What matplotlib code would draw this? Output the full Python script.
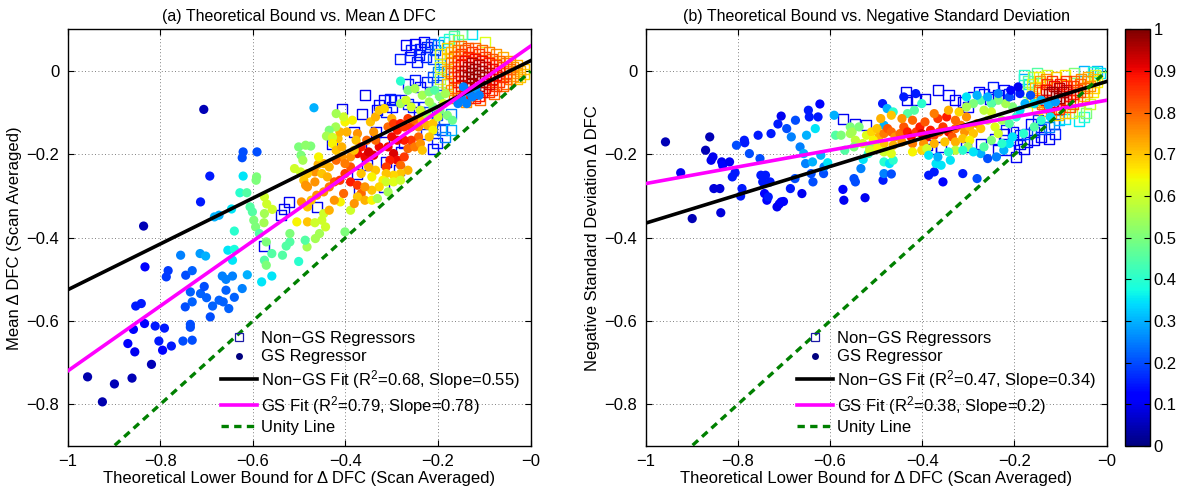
import numpy as np
import matplotlib
matplotlib.use("Agg")
import matplotlib.pyplot as plt
from matplotlib.lines import Line2D
from matplotlib.ticker import FuncFormatter

plt.rcParams["font.family"] = ["Liberation Sans", "DejaVu Sans"]
plt.rcParams["mathtext.fontset"] = "custom"
plt.rcParams["mathtext.rm"] = "Liberation Sans"
plt.rcParams["mathtext.it"] = "Liberation Sans:italic"

# ---- panel (a): mean delta DFC -----------------------------------------
# (bound, mean dDFC, colour value)
a_gs = [
    (-0.957, -0.734, 0.04), (-0.925, -0.794, 0.04), (-0.899, -0.751, 0.05), (-0.861, -0.737, 0.05),
    (-0.819, -0.704, 0.05), (-0.855, -0.674, 0.10), (-0.870, -0.654, 0.12), (-0.795, -0.670, 0.12),
    (-0.803, -0.648, 0.15), (-0.776, -0.660, 0.15), (-0.858, -0.620, 0.12), (-0.834, -0.606, 0.12),
    (-0.811, -0.612, 0.15), (-0.791, -0.617, 0.15), (-0.853, -0.564, 0.15), (-0.841, -0.558, 0.15),
    (-0.833, -0.470, 0.12), (-0.787, -0.494, 0.18), (-0.783, -0.479, 0.18), (-0.756, -0.442, 0.25),
    (-0.745, -0.490, 0.20), (-0.731, -0.479, 0.22), (-0.714, -0.438, 0.28), (-0.702, -0.444, 0.30),
    (-0.746, -0.566, 0.20), (-0.731, -0.554, 0.22), (-0.735, -0.530, 0.22), (-0.713, -0.534, 0.22),
    (-0.705, -0.517, 0.20), (-0.700, -0.544, 0.22), (-0.692, -0.590, 0.20), (-0.687, -0.564, 0.22),
    (-0.673, -0.550, 0.22), (-0.664, -0.554, 0.22), (-0.658, -0.526, 0.22), (-0.666, -0.492, 0.25),
    (-0.658, -0.500, 0.25), (-0.644, -0.492, 0.25), (-0.640, -0.543, 0.22), (-0.652, -0.570, 0.22),
    (-0.623, -0.522, 0.25), (-0.612, -0.489, 0.30), (-0.644, -0.454, 0.35), (-0.654, -0.430, 0.35),
    (-0.640, -0.428, 0.38), (-0.735, -0.615, 0.20), (-0.735, -0.608, 0.20), (-0.751, -0.648, 0.20),
    (-0.731, -0.646, 0.20), (-0.581, -0.506, 0.35), (-0.559, -0.492, 0.35), (-0.501, -0.457, 0.40),
    (-0.575, -0.454, 0.45), (-0.559, -0.438, 0.45), (-0.536, -0.442, 0.45), (-0.528, -0.420, 0.45),
    (-0.571, -0.466, 0.50), (-0.571, -0.410, 0.50), (-0.520, -0.410, 0.45), (-0.483, -0.422, 0.55),
    (-0.706, -0.092, 0.05), (-0.468, -0.088, 0.30), (-0.621, -0.194, 0.20), (-0.623, -0.208, 0.20),
    (-0.591, -0.194, 0.20), (-0.693, -0.252, 0.15), (-0.621, -0.252, 0.35), (-0.713, -0.314, 0.15),
    (-0.628, -0.292, 0.40), (-0.613, -0.292, 0.45), (-0.646, -0.331, 0.35), (-0.683, -0.350, 0.30),
    (-0.673, -0.346, 0.30), (-0.836, -0.372, 0.05), (-0.640, -0.384, 0.40), (-0.593, -0.262, 0.50),
    (-0.592, -0.254, 0.50), (-0.575, -0.302, 0.60), (-0.496, -0.202, 0.50), (-0.492, -0.214, 0.55),
    (-0.475, -0.180, 0.50), (-0.497, -0.242, 0.60),
    (-0.606, -0.326, 0.45), (-0.601, -0.338, 0.45), (-0.598, -0.358, 0.50), (-0.594, -0.374, 0.50),
    (-0.576, -0.364, 0.55), (-0.575, -0.342, 0.55), (-0.558, -0.332, 0.60), (-0.570, -0.319, 0.60),
    (-0.586, -0.390, 0.45), (-0.520, -0.390, 0.50), (-0.505, -0.362, 0.65), (-0.482, -0.362, 0.70),
    (-0.466, -0.364, 0.60), (-0.451, -0.358, 0.60), (-0.447, -0.342, 0.60), (-0.443, -0.374, 0.60),
    (-0.456, -0.390, 0.55), (-0.487, -0.406, 0.45), (-0.465, -0.402, 0.55), (-0.401, -0.386, 0.50),
    (-0.389, -0.334, 0.60), (-0.411, -0.314, 0.65),
    (-0.459, -0.224, 0.72), (-0.466, -0.242, 0.75), (-0.451, -0.246, 0.70), (-0.439, -0.254, 0.72),
    (-0.482, -0.278, 0.75), (-0.466, -0.266, 0.75), (-0.490, -0.262, 0.70), (-0.495, -0.314, 0.75),
    (-0.482, -0.326, 0.70), (-0.474, -0.310, 0.70), (-0.462, -0.298, 0.75), (-0.447, -0.290, 0.75),
    (-0.435, -0.278, 0.78), (-0.424, -0.266, 0.82), (-0.412, -0.262, 0.85), (-0.401, -0.246, 0.85),
    (-0.389, -0.266, 0.88), (-0.374, -0.274, 0.85), (-0.366, -0.294, 0.80), (-0.404, -0.294, 0.80),
    (-0.424, -0.310, 0.75), (-0.435, -0.334, 0.72), (-0.389, -0.230, 0.82), (-0.408, -0.206, 0.75),
    (-0.416, -0.162, 0.70), (-0.412, -0.146, 0.72), (-0.397, -0.146, 0.72), (-0.401, -0.122, 0.65),
    (-0.421, -0.134, 0.55), (-0.435, -0.142, 0.50), (-0.441, -0.156, 0.55), (-0.428, -0.159, 0.60),
    (-0.404, -0.110, 0.60), (-0.385, -0.118, 0.65), (-0.374, -0.150, 0.75), (-0.377, -0.166, 0.70),
    (-0.366, -0.182, 0.88), (-0.374, -0.198, 0.90), (-0.358, -0.206, 0.90), (-0.350, -0.194, 0.92),
    (-0.339, -0.202, 0.92), (-0.327, -0.182, 0.90), (-0.335, -0.166, 0.80), (-0.354, -0.166, 0.80),
    (-0.339, -0.146, 0.75), (-0.346, -0.122, 0.70), (-0.335, -0.110, 0.72), (-0.327, -0.094, 0.70),
    (-0.316, -0.090, 0.68), (-0.300, -0.114, 0.72), (-0.308, -0.134, 0.80), (-0.296, -0.126, 0.85),
    (-0.288, -0.142, 0.88), (-0.281, -0.126, 0.88), (-0.273, -0.134, 0.85), (-0.265, -0.114, 0.85),
    (-0.258, -0.134, 0.85), (-0.250, -0.118, 0.80), (-0.242, -0.134, 0.75), (-0.234, -0.118, 0.70),
    (-0.223, -0.130, 0.72), (-0.211, -0.126, 0.70), (-0.211, -0.142, 0.65), (-0.219, -0.158, 0.70),
    (-0.242, -0.158, 0.80), (-0.258, -0.166, 0.85), (-0.273, -0.166, 0.88), (-0.288, -0.166, 0.90),
    (-0.300, -0.158, 0.90), (-0.308, -0.182, 0.90), (-0.296, -0.198, 0.92), (-0.288, -0.214, 0.90),
    (-0.304, -0.214, 0.88), (-0.312, -0.230, 0.85), (-0.281, -0.226, 0.80), (-0.273, -0.206, 0.85),
    (-0.265, -0.186, 0.80), (-0.250, -0.182, 0.78), (-0.238, -0.174, 0.75), (-0.234, -0.190, 0.70),
    (-0.265, -0.238, 0.72), (-0.281, -0.246, 0.70), (-0.296, -0.250, 0.68), (-0.312, -0.246, 0.70),
    (-0.319, -0.262, 0.65), (-0.312, -0.266, 0.60), (-0.296, -0.266, 0.62), (-0.281, -0.262, 0.60),
    (-0.335, -0.238, 0.70), (-0.350, -0.230, 0.72), (-0.366, -0.246, 0.70), (-0.343, -0.254, 0.65),
    (-0.327, -0.278, 0.68), (-0.343, -0.286, 0.70), (-0.358, -0.278, 0.75), (-0.374, -0.302, 0.70),
    (-0.381, -0.318, 0.75), (-0.358, -0.310, 0.72), (-0.343, -0.310, 0.65), (-0.331, -0.306, 0.55),
    (-0.308, -0.290, 0.55),
    (-0.420, -0.102, 0.55), (-0.428, -0.174, 0.65), (-0.420, -0.190, 0.70), (-0.408, -0.182, 0.72),
    (-0.389, -0.206, 0.75), (-0.381, -0.190, 0.70), (-0.401, -0.222, 0.78), (-0.420, -0.214, 0.80),
    (-0.435, -0.230, 0.72), (-0.447, -0.222, 0.72), (-0.458, -0.206, 0.65), (-0.501, -0.182, 0.50),
    (-0.486, -0.178, 0.52), (-0.510, -0.234, 0.60), (-0.482, -0.246, 0.70), (-0.486, -0.274, 0.75),
    (-0.281, -0.024, 0.40), (-0.265, -0.046, 0.50), (-0.250, -0.042, 0.55), (-0.234, -0.058, 0.55),
    (-0.219, -0.050, 0.50), (-0.207, -0.046, 0.45), (-0.196, -0.062, 0.50), (-0.184, -0.054, 0.55),
    (-0.281, -0.078, 0.55), (-0.269, -0.070, 0.60), (-0.258, -0.086, 0.60), (-0.238, -0.094, 0.60),
    (-0.223, -0.106, 0.55), (-0.211, -0.086, 0.50), (-0.196, -0.094, 0.50), (-0.180, -0.106, 0.50),
    (-0.169, -0.118, 0.48), (-0.188, -0.078, 0.60), (-0.200, -0.110, 0.60), (-0.219, -0.074, 0.55),
    (-0.145, -0.038, 0.25), (-0.134, -0.050, 0.25), (-0.126, -0.062, 0.25), (-0.149, -0.066, 0.25),
    (-0.138, -0.078, 0.25), (-0.118, -0.042, 0.28), (-0.157, -0.078, 0.25), (-0.111, -0.058, 0.25),
]

a_nongs = [
    (-0.282, 0.028, 0.15), (-0.269, 0.062, 0.12), (-0.258, 0.050, 0.15), (-0.250, 0.066, 0.12),
    (-0.238, 0.054, 0.15), (-0.230, 0.070, 0.12), (-0.223, 0.058, 0.15), (-0.215, 0.066, 0.18),
    (-0.207, 0.050, 0.20), (-0.200, 0.062, 0.25), (-0.242, 0.038, 0.15), (-0.227, 0.034, 0.15),
    (-0.211, 0.030, 0.20), (-0.196, 0.042, 0.25), (-0.261, 0.034, 0.12), (-0.246, 0.022, 0.15),
    (-0.188, 0.070, 0.35), (-0.176, 0.076, 0.40), (-0.165, 0.084, 0.45), (-0.149, 0.090, 0.45),
    (-0.126, 0.090, 0.35), (-0.196, 0.018, 0.30), (-0.188, 0.006, 0.30), (-0.200, -0.002, 0.25),
    (-0.099, 0.070, 0.62), (-0.157, 0.074, 0.55),
    (-0.357, -0.058, 0.10), (-0.408, -0.090, 0.10), (-0.364, -0.102, 0.10), (-0.327, -0.082, 0.12),
    (-0.316, -0.070, 0.12), (-0.304, -0.066, 0.15), (-0.292, -0.070, 0.15), (-0.281, -0.070, 0.12),
    (-0.331, -0.094, 0.12), (-0.312, -0.098, 0.15), (-0.300, -0.086, 0.12), (-0.265, -0.078, 0.15),
    (-0.254, -0.086, 0.15), (-0.242, -0.098, 0.12), (-0.230, -0.086, 0.15), (-0.219, -0.098, 0.20),
    (-0.203, -0.106, 0.20), (-0.188, -0.114, 0.20), (-0.172, -0.102, 0.25), (-0.265, -0.030, 0.15),
    (-0.250, -0.022, 0.15), (-0.238, -0.038, 0.12), (-0.223, -0.026, 0.15), (-0.211, -0.014, 0.20),
    (-0.203, -0.034, 0.20), (-0.180, -0.030, 0.30), (-0.219, -0.122, 0.15), (-0.207, -0.138, 0.20),
    (-0.192, -0.142, 0.20), (-0.227, -0.150, 0.15), (-0.203, -0.172, 0.15), (-0.211, -0.186, 0.12),
    (-0.184, -0.158, 0.25), (-0.172, -0.142, 0.30),
    (-0.428, -0.175, 0.10), (-0.366, -0.186, 0.10), (-0.317, -0.170, 0.10), (-0.273, -0.172, 0.12),
    (-0.540, -0.346, 0.10), (-0.532, -0.332, 0.10), (-0.521, -0.314, 0.10), (-0.461, -0.326, 0.10),
    (-0.370, -0.286, 0.10), (-0.374, -0.246, 0.10), (-0.354, -0.226, 0.10), (-0.312, -0.218, 0.12),
    (-0.285, -0.238, 0.10), (-0.316, -0.278, 0.10), (-0.281, -0.194, 0.10), (-0.575, -0.420, 0.10),
    (-0.381, -0.146, 0.10), (-0.335, -0.146, 0.12),
    # dense block near the origin
    (-0.195, 0.040, 0.62), (-0.195, 0.010, 0.60), (-0.195, -0.020, 0.58), (-0.195, -0.050, 0.55),
    (-0.180, 0.055, 0.68), (-0.180, 0.030, 0.70), (-0.180, 0.000, 0.72), (-0.180, -0.030, 0.70),
    (-0.180, -0.060, 0.68), (-0.165, 0.060, 0.75), (-0.165, 0.035, 0.80), (-0.165, 0.010, 0.82),
    (-0.165, -0.015, 0.85), (-0.165, -0.040, 0.80), (-0.165, -0.065, 0.78), (-0.150, 0.060, 0.80),
    (-0.150, 0.040, 0.85), (-0.150, 0.015, 0.90), (-0.150, -0.010, 0.92), (-0.150, -0.035, 0.90),
    (-0.150, -0.060, 0.82), (-0.135, 0.055, 0.82), (-0.135, 0.035, 0.88), (-0.135, 0.010, 0.95),
    (-0.135, -0.015, 0.97), (-0.135, -0.040, 0.92), (-0.135, -0.065, 0.85), (-0.120, 0.055, 0.80),
    (-0.120, 0.030, 0.90), (-0.120, 0.005, 0.97), (-0.120, -0.020, 0.98), (-0.120, -0.045, 0.93),
    (-0.120, -0.065, 0.88), (-0.105, 0.050, 0.80), (-0.105, 0.025, 0.90), (-0.105, 0.000, 0.96),
    (-0.105, -0.025, 0.95), (-0.105, -0.050, 0.90), (-0.090, 0.045, 0.78), (-0.090, 0.020, 0.88),
    (-0.090, -0.005, 0.93), (-0.090, -0.030, 0.92), (-0.090, -0.050, 0.85), (-0.075, 0.040, 0.75),
    (-0.075, 0.015, 0.85), (-0.075, -0.010, 0.90), (-0.075, -0.035, 0.85), (-0.060, 0.035, 0.72),
    (-0.060, 0.010, 0.82), (-0.060, -0.015, 0.86), (-0.060, -0.035, 0.80), (-0.045, 0.025, 0.75),
    (-0.045, 0.005, 0.80), (-0.045, -0.020, 0.78), (-0.030, 0.015, 0.72), (-0.030, -0.005, 0.75),
    (-0.030, -0.020, 0.70), (-0.015, 0.005, 0.70), (-0.015, -0.008, 0.68), (-0.140, -0.075, 0.75),
    (-0.110, -0.070, 0.80), (-0.080, -0.055, 0.80),
    (-0.1725, 0.045, 0.72), (-0.1725, 0.020, 0.78), (-0.1725, -0.005, 0.80), (-0.1725, -0.045, 0.75),
    (-0.1575, 0.050, 0.78), (-0.1575, 0.025, 0.85), (-0.1575, 0.000, 0.88), (-0.1575, -0.025, 0.88),
    (-0.1575, -0.050, 0.82), (-0.1425, 0.050, 0.82), (-0.1425, 0.025, 0.90), (-0.1425, 0.000, 0.95),
    (-0.1425, -0.025, 0.95), (-0.1425, -0.050, 0.88), (-0.1425, -0.070, 0.80), (-0.1275, 0.045, 0.85),
    (-0.1275, 0.020, 0.95), (-0.1275, -0.005, 0.98), (-0.1275, -0.030, 0.96), (-0.1275, -0.055, 0.90),
    (-0.1125, 0.040, 0.85), (-0.1125, 0.015, 0.95), (-0.1125, -0.010, 0.98), (-0.1125, -0.035, 0.95),
    (-0.1125, -0.060, 0.88), (-0.0975, 0.035, 0.85), (-0.0975, 0.010, 0.93), (-0.0975, -0.015, 0.95),
    (-0.0975, -0.040, 0.90), (-0.0825, 0.030, 0.82), (-0.0825, 0.005, 0.90), (-0.0825, -0.020, 0.90),
    (-0.0825, -0.045, 0.85), (-0.0675, 0.025, 0.80), (-0.0675, 0.000, 0.88), (-0.0675, -0.025, 0.85),
    (-0.0525, 0.020, 0.78), (-0.0525, -0.005, 0.82), (-0.0525, -0.030, 0.80), (-0.0375, 0.010, 0.75),
    (-0.0375, -0.012, 0.75), (-0.0225, 0.000, 0.72), (-0.0225, -0.015, 0.70),
]

# ---- panel (b): negative standard deviation ------------------------------
b_gs = [
    (-0.957, -0.170, 0.05), (-0.924, -0.244, 0.10), (-0.899, -0.354, 0.05), (-0.870, -0.190, 0.05),
    (-0.861, -0.158, 0.05), (-0.858, -0.214, 0.10), (-0.854, -0.206, 0.10), (-0.852, -0.282, 0.08),
    (-0.839, -0.282, 0.08), (-0.837, -0.340, 0.08), (-0.835, -0.218, 0.10), (-0.833, -0.226, 0.12),
    (-0.818, -0.218, 0.10), (-0.812, -0.254, 0.15), (-0.803, -0.178, 0.20), (-0.806, -0.244, 0.15),
    (-0.794, -0.300, 0.15), (-0.791, -0.282, 0.15), (-0.786, -0.166, 0.15), (-0.785, -0.172, 0.15),
    (-0.775, -0.198, 0.20), (-0.756, -0.154, 0.15), (-0.750, -0.250, 0.15), (-0.752, -0.210, 0.20),
    (-0.746, -0.266, 0.15), (-0.742, -0.294, 0.12), (-0.740, -0.250, 0.15), (-0.737, -0.310, 0.12),
    (-0.730, -0.266, 0.15), (-0.734, -0.302, 0.15), (-0.728, -0.150, 0.15), (-0.715, -0.326, 0.10),
    (-0.710, -0.319, 0.10), (-0.706, -0.314, 0.12), (-0.701, -0.313, 0.12), (-0.706, -0.108, 0.10),
    (-0.713, -0.127, 0.15), (-0.694, -0.138, 0.20), (-0.686, -0.282, 0.15), (-0.684, -0.158, 0.25),
    (-0.676, -0.258, 0.20), (-0.675, -0.118, 0.20), (-0.665, -0.182, 0.25), (-0.661, -0.294, 0.10),
    (-0.657, -0.198, 0.30), (-0.653, -0.222, 0.25), (-0.651, -0.154, 0.30), (-0.647, -0.094, 0.15),
    (-0.645, -0.110, 0.15), (-0.641, -0.246, 0.20), (-0.638, -0.218, 0.30), (-0.637, -0.266, 0.20),
    (-0.632, -0.138, 0.35), (-0.626, -0.110, 0.15), (-0.622, -0.079, 0.12), (-0.620, -0.202, 0.30),
    (-0.614, -0.246, 0.20), (-0.613, -0.230, 0.25), (-0.605, -0.220, 0.35), (-0.591, -0.106, 0.30),
    (-0.588, -0.154, 0.45), (-0.576, -0.154, 0.50), (-0.572, -0.284, 0.12), (-0.570, -0.310, 0.10),
    (-0.556, -0.134, 0.50), (-0.552, -0.146, 0.55), (-0.548, -0.258, 0.20), (-0.545, -0.266, 0.20),
    (-0.537, -0.134, 0.50), (-0.533, -0.234, 0.25), (-0.524, -0.304, 0.10), (-0.528, -0.212, 0.35),
    (-0.517, -0.198, 0.40), (-0.514, -0.182, 0.45), (-0.502, -0.178, 0.50), (-0.486, -0.078, 0.15),
    (-0.485, -0.262, 0.15), (-0.483, -0.246, 0.25), (-0.483, -0.218, 0.40), (-0.483, -0.130, 0.30),
    (-0.476, -0.090, 0.30), (-0.463, -0.098, 0.40), (-0.471, -0.222, 0.35), (-0.463, -0.214, 0.40),
    (-0.467, -0.247, 0.20), (-0.440, -0.062, 0.15), (-0.436, -0.142, 0.60), (-0.432, -0.102, 0.45),
    (-0.414, -0.054, 0.15), (-0.417, -0.094, 0.45), (-0.401, -0.078, 0.40), (-0.386, -0.250, 0.15),
    (-0.374, -0.242, 0.15), (-0.370, -0.222, 0.35), (-0.359, -0.226, 0.35), (-0.355, -0.266, 0.12),
    (-0.339, -0.214, 0.35), (-0.312, -0.246, 0.15), (-0.281, -0.258, 0.20), (-0.273, -0.198, 0.30),
    (-0.258, -0.210, 0.20), (-0.239, -0.206, 0.25), (-0.223, -0.190, 0.30), (-0.211, -0.174, 0.35),
    (-0.521, -0.154, 0.62), (-0.510, -0.146, 0.68), (-0.498, -0.138, 0.70), (-0.494, -0.158, 0.72),
    (-0.483, -0.150, 0.78), (-0.475, -0.138, 0.82), (-0.467, -0.146, 0.80), (-0.459, -0.158, 0.75),
    (-0.448, -0.150, 0.80), (-0.440, -0.134, 0.82), (-0.432, -0.146, 0.88), (-0.424, -0.158, 0.90),
    (-0.413, -0.146, 0.85), (-0.405, -0.134, 0.88), (-0.401, -0.150, 0.92), (-0.390, -0.158, 0.90),
    (-0.382, -0.142, 0.88), (-0.374, -0.154, 0.85), (-0.363, -0.146, 0.82), (-0.355, -0.134, 0.85),
    (-0.343, -0.146, 0.90), (-0.335, -0.158, 0.82), (-0.328, -0.138, 0.80), (-0.316, -0.130, 0.78),
    (-0.308, -0.146, 0.75), (-0.297, -0.134, 0.72), (-0.289, -0.150, 0.70), (-0.281, -0.126, 0.75),
    (-0.273, -0.138, 0.70),
    (-0.490, -0.114, 0.72), (-0.467, -0.106, 0.70), (-0.444, -0.114, 0.75), (-0.421, -0.118, 0.80),
    (-0.394, -0.122, 0.82), (-0.366, -0.114, 0.85), (-0.347, -0.110, 0.88), (-0.328, -0.118, 0.80),
    (-0.304, -0.110, 0.75), (-0.320, -0.098, 0.68), (-0.343, -0.094, 0.72), (-0.374, -0.102, 0.78),
    (-0.483, -0.174, 0.70), (-0.463, -0.178, 0.72), (-0.444, -0.170, 0.75), (-0.421, -0.174, 0.78),
    (-0.397, -0.174, 0.75), (-0.374, -0.174, 0.72), (-0.351, -0.170, 0.70), (-0.328, -0.170, 0.72),
    (-0.312, -0.162, 0.70), (-0.297, -0.166, 0.65), (-0.401, -0.190, 0.68), (-0.421, -0.194, 0.65),
    (-0.390, -0.186, 0.60), (-0.498, -0.186, 0.65), (-0.483, -0.194, 0.60), (-0.467, -0.198, 0.62),
    (-0.301, -0.182, 0.55), (-0.328, -0.190, 0.58),
    (-0.556, -0.150, 0.55), (-0.545, -0.166, 0.58), (-0.529, -0.174, 0.60), (-0.548, -0.182, 0.50),
    (-0.568, -0.190, 0.45), (-0.514, -0.190, 0.60), (-0.506, -0.166, 0.65),
    (-0.258, -0.118, 0.60), (-0.242, -0.134, 0.62), (-0.235, -0.150, 0.60), (-0.227, -0.118, 0.55),
    (-0.211, -0.126, 0.45), (-0.196, -0.110, 0.40), (-0.188, -0.094, 0.35), (-0.204, -0.086, 0.50),
    (-0.219, -0.078, 0.55), (-0.235, -0.070, 0.50), (-0.250, -0.078, 0.45), (-0.273, -0.070, 0.45),
    (-0.289, -0.078, 0.50), (-0.304, -0.086, 0.55), (-0.250, -0.098, 0.60), (-0.266, -0.094, 0.58),
    (-0.304, -0.062, 0.35), (-0.281, -0.058, 0.30), (-0.258, -0.062, 0.30), (-0.235, -0.054, 0.25),
    (-0.211, -0.062, 0.20), (-0.188, -0.054, 0.15), (-0.165, -0.058, 0.20), (-0.192, -0.038, 0.10),
    (-0.208, -0.046, 0.12), (-0.177, -0.078, 0.30), (-0.157, -0.078, 0.35), (-0.142, -0.070, 0.30),
    (-0.126, -0.082, 0.30), (-0.111, -0.074, 0.28),
    (-0.386, -0.202, 0.35), (-0.366, -0.206, 0.30), (-0.343, -0.194, 0.40), (-0.312, -0.190, 0.40),
    (-0.289, -0.194, 0.35), (-0.266, -0.182, 0.45), (-0.250, -0.166, 0.50), (-0.227, -0.174, 0.40),
    (-0.204, -0.158, 0.35), (-0.180, -0.150, 0.40), (-0.157, -0.134, 0.45), (-0.142, -0.118, 0.40),
    (-0.122, -0.110, 0.35),
]

b_nongs = [
    (-0.436, -0.050, 0.10), (-0.432, -0.070, 0.10), (-0.413, -0.070, 0.10), (-0.394, -0.066, 0.10),
    (-0.366, -0.046, 0.10), (-0.343, -0.058, 0.12), (-0.328, -0.070, 0.12), (-0.312, -0.074, 0.10),
    (-0.301, -0.086, 0.12), (-0.289, -0.062, 0.10), (-0.277, -0.050, 0.12), (-0.266, -0.054, 0.12),
    (-0.254, -0.066, 0.10), (-0.246, -0.038, 0.15), (-0.235, -0.058, 0.10), (-0.223, -0.046, 0.12),
    (-0.211, -0.054, 0.15), (-0.180, -0.018, 0.30), (-0.169, -0.030, 0.35),
    (-0.572, -0.114, 0.10), (-0.545, -0.126, 0.10), (-0.521, -0.130, 0.10), (-0.390, -0.178, 0.10),
    (-0.382, -0.186, 0.10), (-0.359, -0.182, 0.10), (-0.304, -0.182, 0.10), (-0.273, -0.174, 0.10),
    (-0.242, -0.162, 0.12), (-0.223, -0.150, 0.10), (-0.204, -0.166, 0.12), (-0.188, -0.174, 0.10),
    (-0.173, -0.170, 0.12), (-0.157, -0.166, 0.10), (-0.142, -0.158, 0.12), (-0.126, -0.162, 0.10),
    (-0.111, -0.150, 0.15), (-0.196, -0.206, 0.10), (-0.211, -0.190, 0.12), (-0.235, -0.190, 0.10),
    (-0.180, -0.186, 0.10),
    (-0.219, -0.142, 0.15), (-0.204, -0.146, 0.12), (-0.188, -0.154, 0.15), (-0.173, -0.150, 0.20),
    (-0.157, -0.146, 0.15), (-0.142, -0.138, 0.20), (-0.126, -0.134, 0.25), (-0.115, -0.126, 0.20),
    (-0.103, -0.118, 0.30), (-0.091, -0.114, 0.35), (-0.165, -0.126, 0.12), (-0.149, -0.118, 0.15),
    (-0.134, -0.110, 0.18),
    # dense block near the origin
    (-0.170, -0.025, 0.45), (-0.170, -0.050, 0.50), (-0.160, -0.015, 0.55), (-0.155, -0.040, 0.70),
    (-0.155, -0.070, 0.72), (-0.145, -0.025, 0.75), (-0.140, -0.050, 0.85), (-0.140, -0.080, 0.80),
    (-0.130, -0.030, 0.85), (-0.125, -0.055, 0.95), (-0.125, -0.085, 0.85), (-0.115, -0.035, 0.90),
    (-0.110, -0.060, 0.97), (-0.110, -0.090, 0.88), (-0.100, -0.030, 0.88), (-0.095, -0.050, 0.95),
    (-0.095, -0.075, 0.92), (-0.085, -0.035, 0.85), (-0.080, -0.060, 0.90), (-0.080, -0.085, 0.82),
    (-0.070, -0.025, 0.80), (-0.065, -0.045, 0.85), (-0.065, -0.070, 0.80), (-0.055, -0.020, 0.75),
    (-0.050, -0.040, 0.80), (-0.050, -0.060, 0.72), (-0.040, -0.015, 0.72), (-0.035, -0.035, 0.75),
    (-0.030, -0.050, 0.65), (-0.025, -0.010, 0.60), (-0.020, -0.025, 0.65), (-0.015, -0.005, 0.35),
    (-0.010, -0.015, 0.55), (-0.020, 0.000, 0.30), (-0.030, -0.003, 0.40), (-0.060, -0.095, 0.55),
    (-0.045, -0.100, 0.50), (-0.035, -0.080, 0.60), (-0.050, -0.110, 0.40), (-0.060, -0.120, 0.35),
    (-0.075, -0.100, 0.60), (-0.090, -0.100, 0.70), (-0.105, -0.105, 0.70), (-0.120, -0.100, 0.75),
    (-0.135, -0.095, 0.70), (-0.150, -0.090, 0.65), (-0.165, -0.075, 0.55), (-0.050, 0.000, 0.30),
    (-0.070, -0.005, 0.50), (-0.090, -0.010, 0.65), (-0.110, -0.015, 0.70), (-0.130, -0.010, 0.60),
    (-0.150, -0.005, 0.45), (-0.180, -0.010, 0.40),
    (-0.1625, -0.030, 0.60), (-0.1625, -0.060, 0.65), (-0.1475, -0.015, 0.65), (-0.1475, -0.045, 0.80),
    (-0.1475, -0.075, 0.75), (-0.1325, -0.020, 0.75), (-0.1325, -0.045, 0.90), (-0.1325, -0.070, 0.90),
    (-0.1175, -0.025, 0.85), (-0.1175, -0.050, 0.97), (-0.1175, -0.075, 0.92), (-0.1025, -0.040, 0.95),
    (-0.1025, -0.065, 0.97), (-0.1025, -0.090, 0.85), (-0.0875, -0.025, 0.85), (-0.0875, -0.045, 0.92),
    (-0.0875, -0.070, 0.90), (-0.0725, -0.035, 0.85), (-0.0725, -0.055, 0.88), (-0.0725, -0.080, 0.80),
    (-0.0575, -0.030, 0.80), (-0.0575, -0.050, 0.82), (-0.0425, -0.025, 0.75), (-0.0425, -0.050, 0.72),
    (-0.0275, -0.020, 0.70), (-0.0275, -0.040, 0.68),
]

# linear fits: (intercept, slope)
a_fit_nongs = (0.025, 0.55)
a_fit_gs = (0.06, 0.78)
b_fit_nongs = (-0.025, 0.34)
b_fit_gs = (-0.07, 0.20)

a_labels = ["Non\u2212GS Regressors", "GS Regressor",
            "Non\u2212GS Fit (R$^2$=0.68, Slope=0.55)",
            "GS Fit (R$^2$=0.79, Slope=0.78)", "Unity Line"]
b_labels = ["Non\u2212GS Regressors", "GS Regressor",
            "Non\u2212GS Fit (R$^2$=0.47, Slope=0.34)",
            "GS Fit (R$^2$=0.38, Slope=0.2)", "Unity Line"]

cmap = plt.get_cmap("jet")
FS = 12


def fmt(v, pos):
    return ("%g" % round(v, 2)).replace("-", "\u2212")


def draw_panel(ax, gs, nongs, fit_nongs, fit_gs, labels, title, ylabel):
    sq = np.array(sorted(nongs, key=lambda p: p[2]))
    ci = np.array(gs)
    ax.scatter(sq[:, 0], sq[:, 1], s=52, marker="s", facecolors="none",
               edgecolors=cmap(sq[:, 2]), linewidths=1.0, zorder=2)
    ax.scatter(ci[:, 0], ci[:, 1], s=44, marker="o", c=ci[:, 2], cmap=cmap,
               vmin=0, vmax=1, edgecolors="none", zorder=3)

    xx = np.array([-1.0, 0.0])
    ax.plot(xx, fit_nongs[0] + fit_nongs[1] * xx, color="black", lw=2.6, zorder=4)
    ax.plot(xx, fit_gs[0] + fit_gs[1] * xx, color="#ff00ff", lw=2.6, zorder=4)
    ax.plot(xx, xx, color="#008000", lw=2.4, ls=(0, (2.2, 1.6)), zorder=4)

    ax.set_xlim(-1, 0)
    ax.set_ylim(-0.9, 0.1)
    ax.set_xticks(np.arange(-1, 0.01, 0.2))
    ax.set_yticks([-0.8, -0.6, -0.4, -0.2, 0])
    ax.xaxis.set_major_formatter(FuncFormatter(fmt))
    ax.yaxis.set_major_formatter(FuncFormatter(fmt))
    ax.tick_params(direction="in", top=True, right=True, length=4, width=0.8,
                   labelsize=FS, pad=6)
    ax.grid(True, ls=(0, (1, 3)), color="#555555", lw=0.6)
    ax.set_axisbelow(True)
    for sp in ax.spines.values():
        sp.set_linewidth(1.0)
    ax.set_title(title, fontsize=11.5, pad=6)
    ax.set_xlabel("Theoretical Lower Bound for \u0394 DFC (Scan Averaged)", fontsize=FS, labelpad=1)
    ax.set_ylabel(ylabel, fontsize=FS, labelpad=3)

    handles = [
        Line2D([], [], ls="none", marker="s", ms=5.5, mfc="none", mec="#1a1aa6", mew=0.9),
        Line2D([], [], ls="none", marker="o", ms=5, mfc="#00007f", mec="none"),
        Line2D([], [], color="black", lw=2.6),
        Line2D([], [], color="#ff00ff", lw=2.6),
        Line2D([], [], color="#008000", lw=2.4, ls=(0, (2.2, 1.6))),
    ]
    ax.legend(handles, labels, loc="lower right", bbox_to_anchor=(1.0, 0.0),
              frameon=False, fontsize=FS, handlelength=2.2, handletextpad=0.2,
              labelspacing=0.2, borderaxespad=0.25)


fig = plt.figure(figsize=(11.81, 4.93), dpi=100)
ax1 = fig.add_axes([0.0573, 0.0953, 0.392, 0.845])
ax2 = fig.add_axes([0.5467, 0.0953, 0.3903, 0.845])
cax = fig.add_axes([0.9528, 0.0953, 0.0207, 0.845])

draw_panel(ax1, a_gs, a_nongs, a_fit_nongs, a_fit_gs, a_labels,
           "(a) Theoretical Bound vs. Mean \u0394 DFC", "Mean \u0394 DFC (Scan Averaged)")
draw_panel(ax2, b_gs, b_nongs, b_fit_nongs, b_fit_gs, b_labels,
           "(b) Theoretical Bound vs. Negative Standard Deviation",
           "Negative Standard Deviation \u0394 DFC")

sm = plt.cm.ScalarMappable(cmap=cmap, norm=plt.Normalize(0, 1))
cb = fig.colorbar(sm, cax=cax, ticks=np.arange(0, 1.01, 0.1))
cb.ax.yaxis.set_major_formatter(FuncFormatter(fmt))
cb.ax.tick_params(direction="in", length=4, labelsize=FS, left=True, right=True, pad=3)
cb.outline.set_linewidth(1.0)

fig.savefig("out.png", dpi=100)
